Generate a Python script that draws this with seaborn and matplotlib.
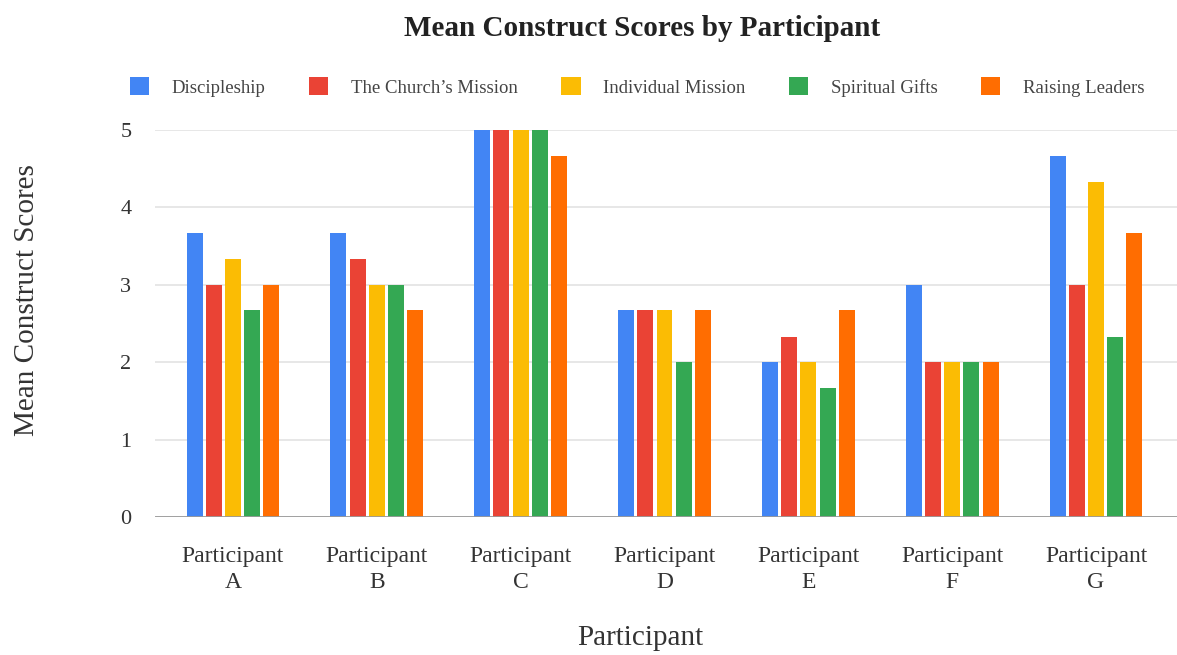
import matplotlib
matplotlib.use("Agg")
import matplotlib.pyplot as plt
from matplotlib.patches import Patch
import pandas as pd
import seaborn as sns

participants = ["Participant\nA", "Participant\nB", "Participant\nC", "Participant\nD",
                "Participant\nE", "Participant\nF", "Participant\nG"]
constructs = ["Discipleship", "The Church\u2019s Mission", "Individual Mission",
              "Spiritual Gifts", "Raising Leaders"]
discipleship = [3.67, 3.67, 5.00, 2.67, 2.00, 3.00, 4.67]
church_mission = [3.00, 3.33, 5.00, 2.67, 2.33, 2.00, 3.00]
individual_mission = [3.33, 3.00, 5.00, 2.67, 2.00, 2.00, 4.33]
spiritual_gifts = [2.67, 3.00, 5.00, 2.00, 1.67, 2.00, 2.33]
raising_leaders = [3.00, 2.67, 4.67, 2.67, 2.67, 2.00, 3.67]
colors = ["#4285F4", "#EA4335", "#FBBC04", "#34A853", "#FF6D01"]
y_ticks = [0, 1, 2, 3, 4, 5]

series = [discipleship, church_mission, individual_mission, spiritual_gifts, raising_leaders]
df = pd.DataFrame(
    [(p, c, v) for c, vals in zip(constructs, series) for p, v in zip(participants, vals)],
    columns=["Participant", "Construct", "Score"],
)

sns.set_theme(style="white")
plt.rcParams["font.family"] = ["Liberation Serif", "DejaVu Serif"]

W, H = 1177, 655
fig = plt.figure(figsize=(W / 100, H / 100), dpi=100)
ax = fig.add_axes([155 / W, 1 - 517 / H, (1177 - 155) / W, (517 - 130) / H])

sns.barplot(data=df, x="Participant", y="Score", hue="Construct",
            hue_order=constructs, order=participants, palette=colors,
            width=0.668, gap=0.17, saturation=1, legend=False,
            edgecolor="none", linewidth=0, ax=ax, zorder=2)

ax.set_xlim(-0.542, 6.563)
ax.set_ylim(0, 5)
ax.set_yticks(y_ticks)
ax.yaxis.grid(True, color="#e3e3e3", linewidth=1.2, zorder=0)
ax.xaxis.grid(False)
ax.set_axisbelow(True)
ax.axhline(0, color="#9a9a9a", linewidth=2, zorder=3)
for s in ax.spines.values():
    s.set_visible(False)

ax.tick_params(axis="x", length=0, pad=21, labelsize=17, labelcolor="#333333")
ax.tick_params(axis="y", length=0, pad=17, labelsize=16, labelcolor="#333333")
for lbl in ax.get_xticklabels():
    lbl.set_linespacing(1.3)
ax.set_xlabel("")
ax.set_ylabel("")

fig.text(640 / W, 1 - 638 / H, "Participant", ha="center", va="center",
         fontsize=21, color="#333333")
fig.text(27 / W, 1 - 300 / H, "Mean Construct Scores", ha="center", va="center",
         rotation=90, fontsize=21, color="#333333")
fig.text(642 / W, 1 - 28 / H, "Mean Construct Scores by Participant", ha="center",
         va="center", fontsize=21, fontweight="bold", color="#222222")

handles = [Patch(facecolor=c, edgecolor="none") for c in colors]
fig.legend(handles, constructs, loc="center", bbox_to_anchor=(637 / W, 1 - 87 / H),
           ncol=5, frameon=False, fontsize=13.5, handlelength=1.05, handleheight=1.05,
           handletextpad=1.2, columnspacing=2.3, labelcolor="#444444")

fig.savefig("out.png", dpi=100)
